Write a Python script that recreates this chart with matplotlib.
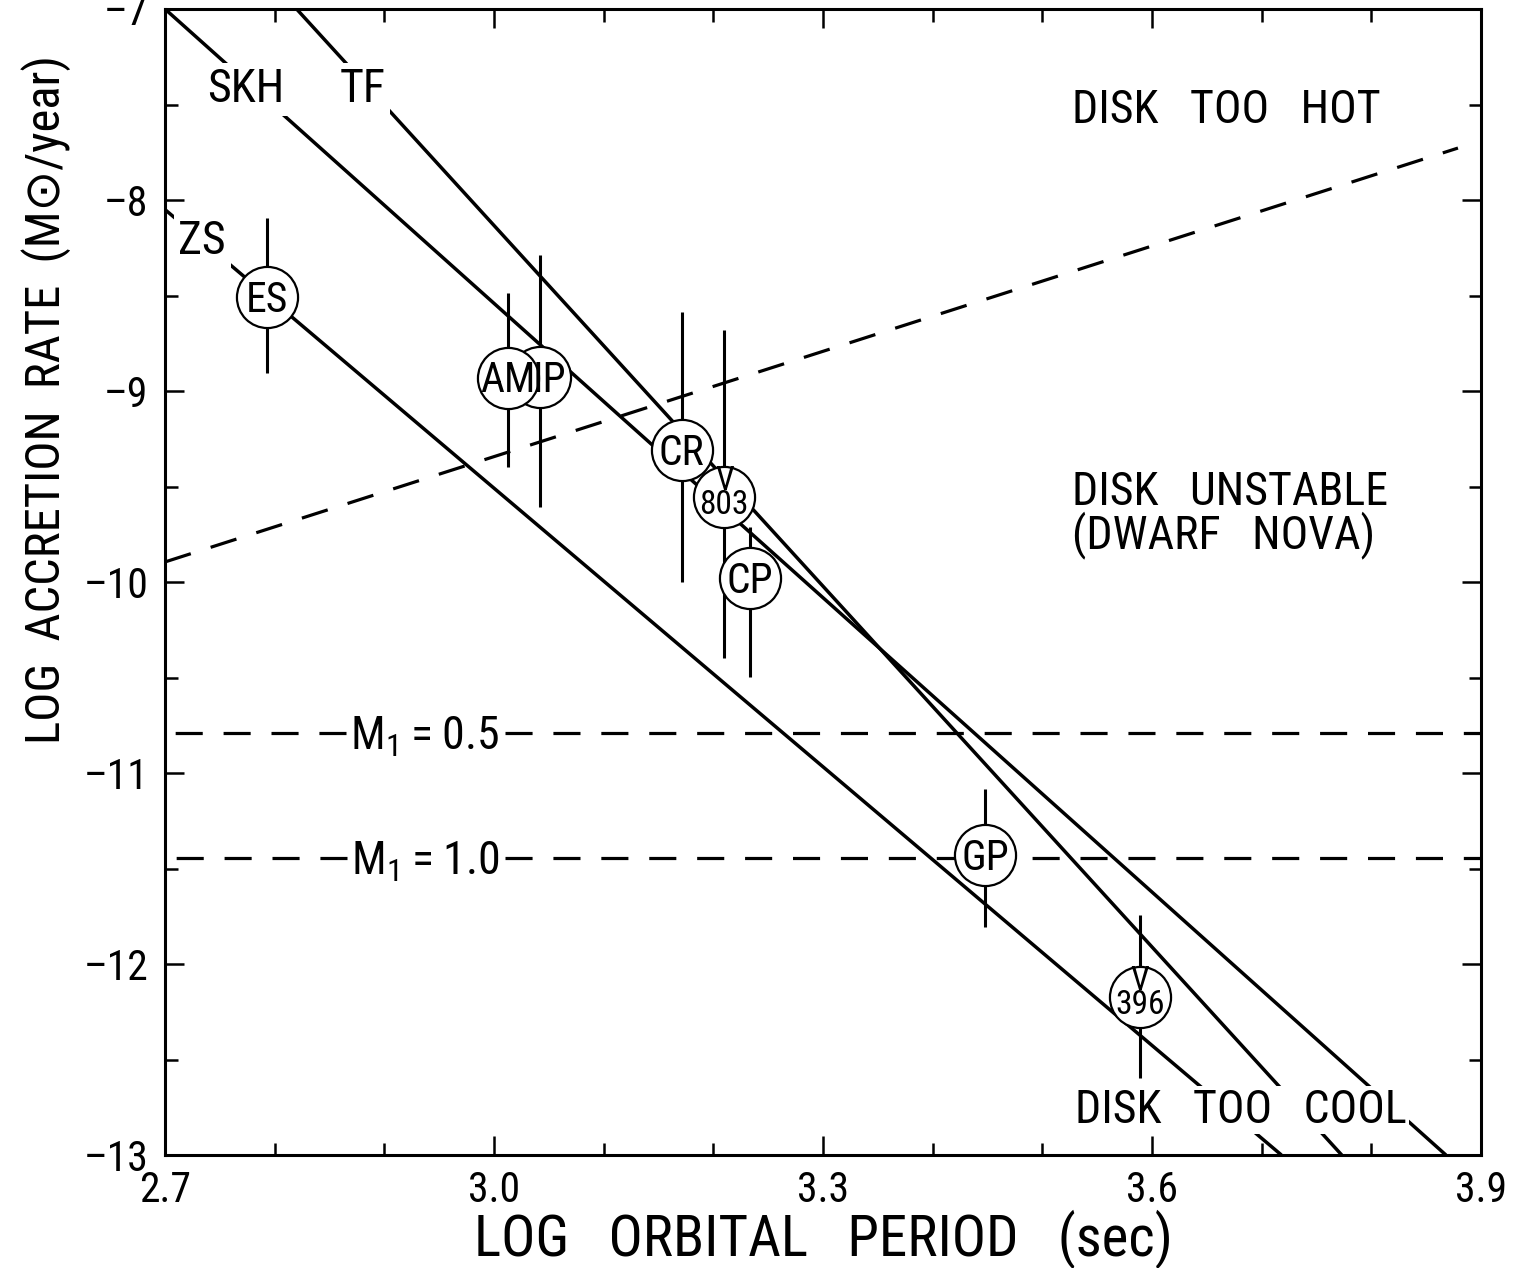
import matplotlib
matplotlib.use("Agg")
import matplotlib.pyplot as plt
from matplotlib import font_manager
from matplotlib.ticker import MultipleLocator

# ---- fonts: prefer a condensed sans face when one is installed -------------
entries = font_manager.fontManager.ttflist
names = {f.name for f in entries}
narrow_names = ['Liberation Sans Narrow', 'Arial Narrow', 'Roboto Condensed',
                'Open Sans Condensed', 'Noto Sans Condensed', 'DejaVu Sans Condensed',
                'Noto Sans Display Condensed']
base, stretch = 'Liberation Sans', 'normal'
for n in narrow_names:
    if n in names:
        base = n
        break
else:
    for fam in ['Roboto', 'Noto Sans', 'Open Sans', 'DejaVu Sans']:
        cond = [f for f in entries if f.name == fam and f.weight in (400, 'normal', 'regular')
                and f.style == 'normal'
                and f.stretch in ('condensed', 'semi-condensed', 'extra-condensed', 62.5, 75, 87.5)]
        if cond:
            base, stretch = fam, 'condensed'
            break
plt.rcParams['font.family'] = [base, 'DejaVu Sans']
plt.rcParams['font.stretch'] = stretch
plt.rcParams['mathtext.fontset'] = 'custom'
plt.rcParams['mathtext.rm'] = base
plt.rcParams['mathtext.default'] = 'regular'
plt.rcParams['lines.scale_dashes'] = False
CAP = 0.711  # cap height as a fraction of the font size

# ---- data --------------------------------------------------------------
# model relations (log P, log Mdot)
skh_x = [2.700, 3.868]
skh_y = [-7.000, -13.000]
tf_x = [2.820, 3.773]
tf_y = [-7.000, -13.000]
zs_x = [2.700, 3.718]
zs_y = [-8.050, -13.000]

# disk thermal-instability boundary
inst_x = [2.700, 3.879]
inst_y = [-9.895, -7.728]

# white-dwarf mass limits
m1_labels = ['M$_1$\u2009=\u20090.5', 'M$_1$\u2009=\u20091.0']
m1_y = [-10.79, -11.445]
m1_label_x = 2.937

# observed systems (IP is drawn before AM so AM sits on top)
sys_labels = ['ES', 'IP', 'AM', 'CR', 'V 803', 'CP', 'GP', 'V 396']
sys_x = [2.793, 3.042, 3.013, 3.171, 3.210, 3.233, 3.448, 3.589]
sys_y = [-8.510, -8.927, -8.930, -9.309, -9.555, -9.979, -11.429, -12.173]
sys_lo = [-8.906, -9.607, -9.398, -10.000, -10.398, -10.497, -11.806, -12.597]
sys_hi = [-8.094, -8.288, -8.487, -8.586, -8.681, -9.712, -11.084, -11.743]

# curve and region labels
curve_labels = ['SKH', 'TF', 'ZS']
curve_label_x = [2.774, 2.880, 2.734]
curve_label_y = [-7.403, -7.403, -8.199]

region_labels = ['DISK   TOO   HOT', 'DISK   UNSTABLE', '(DWARF   NOVA)', 'DISK   TOO   COOL']
region_x = [3.527, 3.527, 3.527, 3.5295]
region_y = [-7.597, -9.597, -9.822, -12.832]

xticks = [2.7, 3.0, 3.3, 3.6, 3.9]
yticks = [-13, -12, -11, -10, -9, -8, -7]

# ---- figure ------------------------------------------------------------
W, H = 1517, 1268
fig = plt.figure(figsize=(W / 100, H / 100), dpi=100)
ax = fig.add_axes([165 / W, 1 - 1155 / H, (1481 - 165) / W, (1155 - 9) / H])
ax.set_xlim(2.7, 3.9)
ax.set_ylim(-13, -7)

LW = 2.5
DASH = (0, (19.5, 15.0))


def caps_label(x, y, s, size, ha='center', box=None, z=3, dx=0.0):
    """Place text so that its capitals are centred vertically on (x, y)."""
    return ax.annotate(s, (x, y), xytext=(dx, -CAP * size / 2),
                       textcoords='offset points', ha=ha, va='baseline',
                       fontsize=size, bbox=box, zorder=z)


# model lines
for xs, ys in [(skh_x, skh_y), (tf_x, tf_y), (zs_x, zs_y)]:
    ax.plot(xs, ys, color='black', lw=LW, solid_capstyle='butt', zorder=2)

# instability boundary
ax.plot(inst_x, inst_y, color='black', lw=2.3, ls=DASH, zorder=2)

# curve labels (white box opens a gap in the line)
for lab, xv, yv in zip(curve_labels, curve_label_x, curve_label_y):
    caps_label(xv, yv, lab, 33,
               box=dict(boxstyle='square,pad=0.1', fc='white', ec='none'))

# region labels
for lab, xv, yv in zip(region_labels, region_x, region_y):
    box = dict(boxstyle='square,pad=0.05', fc='white', ec='none') if 'COOL' in lab else None
    ax.text(xv, yv, lab, fontsize=33, ha='left', va='baseline', bbox=box, zorder=3)

# mass-limit labels; the dashed lines start right at the label edges
m1_texts = [caps_label(m1_label_x, yv, lab, 33) for lab, yv in zip(m1_labels, m1_y)]
fig.canvas.draw()
inv = ax.transData.inverted()
for t, yv in zip(m1_texts, m1_y):
    bb = t.get_window_extent()
    x_left = inv.transform((bb.x0 - 4, 0))[0]
    x_right = inv.transform((bb.x1 + 6, 0))[0]
    ax.plot([x_left, 2.7], [yv, yv], color='black', lw=2.3, ls=DASH, zorder=2)
    ax.plot([x_right, 3.9], [yv, yv], color='black', lw=2.3, ls=DASH, zorder=2)

# error bars
ax.vlines(sys_x, sys_lo, sys_hi, color='black', lw=2.2, zorder=4)

# system circles first, names on top of all circles
name_nudge = {'IP': 6.5}
for i, (xv, yv) in enumerate(zip(sys_x, sys_y)):
    ax.plot([xv], [yv], marker='o', ms=44, mfc='white', mec='black', mew=1.6,
            ls='none', zorder=10 + i)
for lab, xv, yv in zip(sys_labels, sys_x, sys_y):
    parts = lab.split()
    if len(parts) == 1:
        caps_label(xv, yv, lab, 30, z=30, dx=name_nudge.get(lab, 0.0))
    else:
        ax.annotate(parts[0], (xv, yv), xytext=(0, 5.0), textcoords='offset points',
                    ha='center', va='baseline', fontsize=24, zorder=30)
        ax.annotate(parts[1], (xv, yv), xytext=(0, -12.0), textcoords='offset points',
                    ha='center', va='baseline', fontsize=24, zorder=30)

# axes styling
for sp in ax.spines.values():
    sp.set_linewidth(2.2)
ax.set_xticks(xticks)
ax.set_xticklabels([f'{v:.1f}' for v in xticks])
ax.set_yticks(yticks)
ax.set_yticklabels([f'\u2013{abs(v)}' for v in yticks])
ax.xaxis.set_minor_locator(MultipleLocator(0.1))
ax.yaxis.set_minor_locator(MultipleLocator(0.5))
ax.tick_params(which='both', direction='in', top=True, right=True, width=1.8,
               labelsize=30)
ax.tick_params(which='major', length=14)
ax.tick_params(which='minor', length=9)
ax.tick_params(axis='x', pad=11)
ax.tick_params(axis='y', pad=12)

ax.set_xlabel('LOG   ORBITAL   PERIOD   (sec)', fontsize=41, labelpad=-1)
ax.set_ylabel('LOG  ACCRETION  RATE  (M\u2299/year)', fontsize=35)
ax.yaxis.set_label_coords(-0.0714, 0.659)

fig.savefig('out.png', dpi=100, facecolor='white')
